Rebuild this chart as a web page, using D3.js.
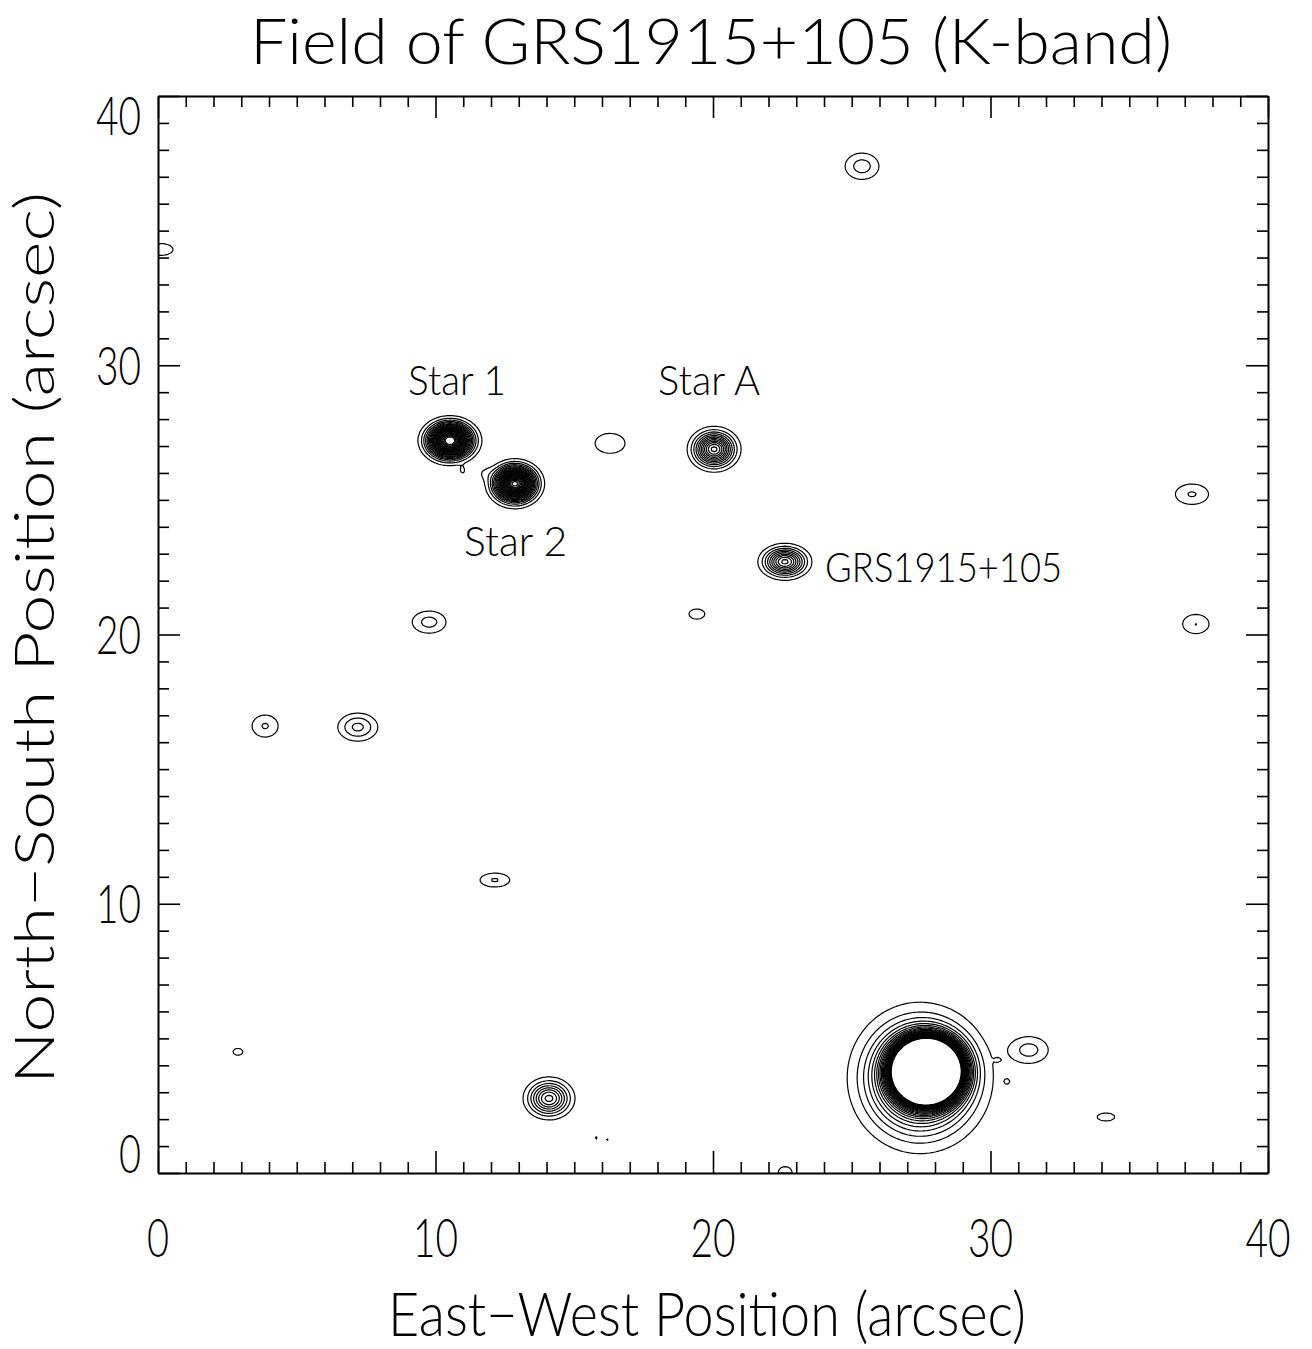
<!DOCTYPE html>
<html>
<head>
<meta charset="utf-8">
<script src="https://cdn.jsdelivr.net/npm/d3@7"></script>
<style>
    body { margin: 0; background: #fff; }
    svg text { font-family: Lato, "DejaVu Sans", sans-serif; font-weight: 300; fill: #000; }
</style>
</head>
<body>
<svg id="chart" width="1312" height="1349"></svg>
<script>

// ---- data ----

let xDomain = [0, 40];
let yDomain = [0, 40];

let majorTicks = [0, 10, 20, 30, 40];
let minorTicks = [1, 2, 3, 4, 5, 6, 7, 8, 9, 11, 12, 13, 14, 15, 16, 17, 18, 19,
                  21, 22, 23, 24, 25, 26, 27, 28, 29, 31, 32, 33, 34, 35, 36, 37, 38, 39];

// linear contour levels (K-band flux, arbitrary units)
let contourLevels = [1, 2, 3, 4, 5, 6, 7, 8, 9, 10, 11, 12, 13,
                     14, 15, 16, 17, 18, 19, 20, 21, 22, 23, 24, 25];

// point sources: position (arcsec), peak, gaussian widths (arcsec)
let sources = [
    {name: 'bright halo', x: 27.46, y: 3.53,  amp: 14.8, sx: 1.13, sy: 1.21},
    {name: 'bright core', x: 27.71, y: 3.79,  amp: 190,  sx: 0.575, sy: 0.56},
    {name: 'Star 1',      x: 10.52, y: 27.2,  amp: 27,   sx: 0.448, sy: 0.362},
    {name: 'Star 2',      x: 12.86, y: 25.6,  amp: 25.8, sx: 0.42,  sy: 0.365},
    {name: 'Star 2 wing', x: 11.75, y: 26.0,  amp: 0.8,  sx: 0.25,  sy: 0.2},
    {name: 'Star A',      x: 20.04, y: 26.88, amp: 12.4, sx: 0.433, sy: 0.38},
    {name: 'GRS1915+105', x: 22.59, y: 22.7,  amp: 10.4, sx: 0.45,  sy: 0.317},
    {name: 's1',  x: 16.29, y: 27.1,  amp: 1.5,  sx: 0.6,  sy: 0.41},
    {name: 's2',  x: 25.37, y: 37.39, amp: 2.5,  sx: 0.45, sy: 0.36},
    {name: 's3',  x: 0.1,   y: 34.3,  amp: 1.4,  sx: 0.54, sy: 0.27},
    {name: 's4',  x: 9.77,  y: 20.46, amp: 2.4,  sx: 0.46, sy: 0.31},
    {name: 's5',  x: 19.42, y: 20.76, amp: 1.4,  sx: 0.35, sy: 0.23},
    {name: 's6',  x: 3.86,  y: 16.6,  amp: 2.1,  sx: 0.385, sy: 0.335},
    {name: 's7',  x: 7.2,   y: 16.56, amp: 3.3,  sx: 0.466, sy: 0.337},
    {name: 's8',  x: 12.14, y: 10.88, amp: 2.1,  sx: 0.44, sy: 0.21},
    {name: 's9',  x: 14.09, y: 2.77,  amp: 8.4,  sx: 0.454, sy: 0.387},
    {name: 's10', x: 15.78, y: 1.3,   amp: 1.1,  sx: 0.1,  sy: 0.14},
    {name: 's11', x: 16.18, y: 1.23,  amp: 1.1,  sx: 0.1,  sy: 0.1},
    {name: 's12', x: 22.6,  y: 0.0,   amp: 1.3,  sx: 0.35, sy: 0.33},
    {name: 's13', x: 2.88,  y: 4.5,   amp: 1.3,  sx: 0.25, sy: 0.18},
    {name: 's14', x: 31.39, y: 4.57,  amp: 2.4,  sx: 0.52, sy: 0.37},
    {name: 's15', x: 34.16, y: 2.08,  amp: 1.4,  sx: 0.39, sy: 0.18},
    {name: 's16', x: 30.28, y: 4.2,   amp: 0.6,  sx: 0.1,  sy: 0.07},
    {name: 's17', x: 30.6,  y: 3.4,   amp: 1.15, sx: 0.1,  sy: 0.1},
    {name: 's18', x: 37.26, y: 25.21, amp: 2.1,  sx: 0.49, sy: 0.31},
    {name: 's19', x: 37.4,  y: 20.39, amp: 2.02, sx: 0.4,  sy: 0.3},
    {name: 's20', x: 10.98, y: 26.08, amp: 1.15, sx: 0.1,  sy: 0.13}
];

// annotations: text and baseline-left position (arcsec)
let labels = [
    {text: 'Star 1',      x: 9.01,  y: 28.9},
    {text: 'Star A',      x: 18.02, y: 28.9},
    {text: 'Star 2',      x: 11.03, y: 22.92},
    {text: 'GRS1915+105', x: 24.04, y: 21.95}
];

let titleText = 'Field of GRS1915+105 (K-band)';
let xTitle = 'East\u2212West Position (arcsec)';
let yTitle = 'North\u2212South Position (arcsec)';

// ---- drawing ----

let svg = d3.select('#chart');

let plotLeft = 158, plotRight = 1268, plotTop = 96, plotBottom = 1173;

let x = d3.scaleLinear().domain(xDomain).range([plotLeft, plotRight]);
let y = d3.scaleLinear().domain(yDomain).range([plotBottom, plotTop]);

// sample the sources onto a grid
let step = 0.08;
let nx = Math.round((xDomain[1] - xDomain[0]) / step);
let ny = Math.round((yDomain[1] - yDomain[0]) / step);
let grid = new Float64Array(nx * ny);

sources.forEach(function (s) {
    let i0 = Math.max(0, Math.floor((s.x - 6 * s.sx) / step));
    let i1 = Math.min(nx - 1, Math.ceil((s.x + 6 * s.sx) / step));
    let j0 = Math.max(0, Math.floor((s.y - 6 * s.sy) / step));
    let j1 = Math.min(ny - 1, Math.ceil((s.y + 6 * s.sy) / step));
    for (let j = j0; j <= j1; j++) {
        let dy = ((j + 0.5) * step - s.y) / s.sy;
        for (let i = i0; i <= i1; i++) {
            let dx = ((i + 0.5) * step - s.x) / s.sx;
            grid[j * nx + i] += s.amp * Math.exp(-0.5 * (dx * dx + dy * dy));
        }
    }
});

let contours = d3.contours()
    .size([nx, ny])
    .thresholds(contourLevels)(grid);

let toScreen = d3.geoTransform({
    point: function (gx, gy) {
        this.stream.point(x(gx * step), y(gy * step));
    }
});
let path = d3.geoPath(toScreen);

svg.append('clipPath').attr('id', 'plotclip')
    .append('rect')
    .attr('x', plotLeft).attr('y', plotTop)
    .attr('width', plotRight - plotLeft).attr('height', plotBottom - plotTop);

svg.append('g')
    .attr('clip-path', 'url(#plotclip)')
    .selectAll('path')
    .data(contours)
    .enter()
    .append('path')
    .attr('d', path)
    .attr('fill', 'none')
    .attr('stroke', '#000')
    .attr('stroke-width', 1.2)
    .attr('stroke-linejoin', 'round');

// axes: ticks point inward on all four sides
function drawAxis(axisFn, scale, transform, vals, len, withDomain) {
    let g = svg.append('g')
        .attr('transform', transform)
        .call(axisFn(scale).tickValues(vals).tickSizeInner(-len).tickSizeOuter(0).tickFormat(''));
    g.selectAll('line').attr('stroke', '#000').attr('stroke-width', 1.6);
    if (withDomain) {
        g.select('.domain').attr('stroke', '#000').attr('stroke-width', 2);
    } else {
        g.select('.domain').remove();
    }
}

drawAxis(d3.axisBottom, x, `translate(0,${plotBottom})`, minorTicks, 11, false);
drawAxis(d3.axisBottom, x, `translate(0,${plotBottom})`, majorTicks, 22, true);
drawAxis(d3.axisTop,    x, `translate(0,${plotTop})`,    minorTicks, 11, false);
drawAxis(d3.axisTop,    x, `translate(0,${plotTop})`,    majorTicks, 22, true);
drawAxis(d3.axisLeft,   y, `translate(${plotLeft},0)`,   minorTicks, 11, false);
drawAxis(d3.axisLeft,   y, `translate(${plotLeft},0)`,   majorTicks, 22, true);
drawAxis(d3.axisRight,  y, `translate(${plotRight},0)`,  minorTicks, 11, false);
drawAxis(d3.axisRight,  y, `translate(${plotRight},0)`,  majorTicks, 22, true);

// tick labels (IDL style, digits kept inside the axis range on y)
let digitH = 39, digitW = 22;

function labelLen(d) {
    let n = String(d).length;
    return n * digitW + (n - 1);
}

svg.append('g').selectAll('text')
    .data(majorTicks)
    .enter()
    .append('text')
    .attr('x', function (d) { return x(d); })
    .attr('y', 1257)
    .attr('text-anchor', 'middle')
    .attr('font-size', 54)
    .attr('textLength', labelLen)
    .attr('lengthAdjust', 'spacingAndGlyphs')
    .text(function (d) { return d; });

svg.append('g').selectAll('text')
    .data(majorTicks)
    .enter()
    .append('text')
    .attr('x', 141)
    .attr('y', function (d) {
        let c = Math.max(plotTop + digitH / 2, Math.min(plotBottom - digitH / 2, y(d)));
        return c + digitH / 2;
    })
    .attr('text-anchor', 'end')
    .attr('font-size', 54)
    .attr('textLength', labelLen)
    .attr('lengthAdjust', 'spacingAndGlyphs')
    .text(function (d) { return d; });

// titles
svg.append('text')
    .attr('x', 711).attr('y', 64)
    .attr('text-anchor', 'middle')
    .attr('font-size', 64)
    .attr('textLength', 922)
    .attr('lengthAdjust', 'spacingAndGlyphs')
    .text(titleText);

svg.append('text')
    .attr('x', 707).attr('y', 1336)
    .attr('text-anchor', 'middle')
    .attr('font-size', 62)
    .attr('textLength', 638)
    .attr('lengthAdjust', 'spacingAndGlyphs')
    .text(xTitle);

svg.append('text')
    .attr('transform', 'translate(54,638) rotate(-90)')
    .attr('text-anchor', 'middle')
    .attr('font-size', 56)
    .attr('textLength', 892)
    .attr('lengthAdjust', 'spacingAndGlyphs')
    .text(yTitle);

// annotations
let labelWidths = {'Star 1': 98, 'Star A': 102, 'Star 2': 103, 'GRS1915+105': 237};

svg.append('g').selectAll('text')
    .data(labels)
    .enter()
    .append('text')
    .attr('x', function (d) { return x(d.x); })
    .attr('y', function (d) { return y(d.y); })
    .attr('font-size', 42)
    .attr('textLength', function (d) { return labelWidths[d.text]; })
    .attr('lengthAdjust', 'spacingAndGlyphs')
    .text(function (d) { return d.text; });

</script>
</body>
</html>
